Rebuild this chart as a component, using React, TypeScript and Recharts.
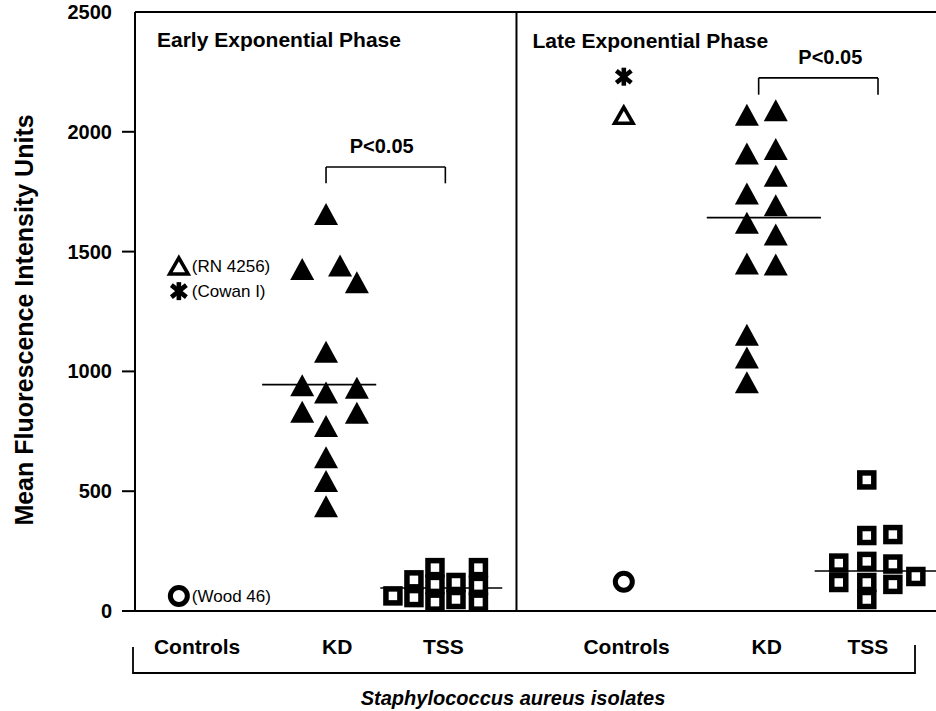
import React from 'react';
import { ScatterChart, Scatter, XAxis, YAxis, ReferenceLine, ReferenceArea } from 'recharts';

// ---------- text ----------
const categories = ['Controls', 'KD', 'TSS', 'Controls', 'KD', 'TSS'];
const panelTitles = ['Early Exponential Phase', 'Late Exponential Phase'];
const yTicks = [0, 500, 1000, 1500, 2000, 2500];
const yTitle = 'Mean Fluorescence Intensity Units';
const xTitle = 'Staphylococcus aureus isolates';
const significance = 'P<0.05';

// ---------- data ----------
// control strains: RN 4256 (open triangle), Cowan I (asterisk), Wood 46 (circle)
const controlStrains = ['(RN 4256)', '(Cowan I)', '(Wood 46)'];
const controlsEarly = [1440, 1335, 63];
const controlsLate = [2069, 2230, 122];

// Kawasaki disease isolates
const kdEarly = [1655, 1425, 1440, 1370, 1080, 940, 910, 930, 830, 825, 770, 640, 540, 435];
const kdEarlyColumn = [-0.4, -1.25, 0.1, 0.7, -0.4, -1.25, -0.4, 0.7, -1.25, 0.7, -0.4, -0.4, -0.4, -0.4];
const kdLate = [2069, 1907, 1740, 1618, 1448, 1151, 1056, 953, 2088, 1926, 1814, 1691, 1569, 1444];
const kdLateColumn = [-0.71, -0.71, -0.71, -0.71, -0.71, -0.71, -0.71, -0.71, 0.32, 0.32, 0.32, 0.32, 0.32, 0.32];

// toxic shock syndrome isolates
const tssEarly = [63, 130, 56, 181, 111, 37, 119, 48, 181, 107, 37];
const tssEarlyColumn = [-1.8, -1.05, -1.05, -0.3, -0.3, -0.3, 0.45, 0.45, 1.25, 1.25, 1.25];
const tssLate = [547, 315, 319, 200, 207, 196, 119, 119, 111, 144, 48];
const tssLateColumn = [-0.04, -0.04, 0.89, -1.04, -0.04, 0.89, -1.04, -0.04, 0.89, 1.71, -0.04];

// medians: early KD, early TSS, late KD, late TSS
const medians = [945, 96, 1642, 167];

// ---------- layout ----------
const W = 936;
const H = 711;
const FONT = '"Liberation Sans", Arial, Helvetica, sans-serif';
const X_DOMAIN: [number, number] = [0, 8];
const CAT_X = [0.62, 2.02, 3.08, 4.91, 6.31, 7.32];
const DIV_X = 3.81;
const COL = 0.28;
const CTRL_COL = [-0.65, -0.1];
const medianCat = [1, 2, 4, 5];
const medianSpan = [[-2.68, 1.39], [-2.25, 2.1], [-2.14, 1.93], [-1.9, 2.43]];
const brackets = [
  { from: [1, -0.4], to: [2, 0.07], top: 1853, leg: 1785, shift: -4 },
  { from: [4, -0.29], to: [5, 0.36], top: 2225, leg: 2155, shift: 12 },
];

const clampX = (v: number) => Math.max(X_DOMAIN[0], Math.min(X_DOMAIN[1], v));
const colX = (cat: number, col: number) => clampX(CAT_X[cat] + col * COL);

const dots = (cat: number, values: number[], cols: number[]) =>
  values.map((v, i) => ({ x: colX(cat, cols[i]), y: v }));

const ctrlPoint = (panel: number, strain: number) => ({
  x: colX(panel * 3, CTRL_COL[panel]),
  y: (panel === 0 ? controlsEarly : controlsLate)[strain],
  label: panel === 0 ? controlStrains[strain] : '',
});

const rnData = [ctrlPoint(0, 0), ctrlPoint(1, 0)];
const cowanData = [ctrlPoint(0, 1), ctrlPoint(1, 1)];
const woodData = [ctrlPoint(0, 2), ctrlPoint(1, 2)];
const kdData = [...dots(1, kdEarly, kdEarlyColumn), ...dots(4, kdLate, kdLateColumn)];
const tssData = [...dots(2, tssEarly, tssEarlyColumn), ...dots(5, tssLate, tssLateColumn)];

const textBase = { fontFamily: FONT, fill: '#000' } as const;

function StrainLabel({ cx, cy, label }: { cx: number; cy: number; label?: string }) {
  if (!label) return null;
  return (
    <text x={cx + 13} y={cy + 6} fontSize={17} style={textBase}>
      {label}
    </text>
  );
}

function FilledTriangle(p: any) {
  const { cx, cy } = p;
  if (cx == null || cy == null) return null;
  return <polygon points={`${cx},${cy - 11.5} ${cx - 12},${cy + 10.5} ${cx + 12},${cy + 10.5}`} fill="#000" />;
}

function OpenTriangle(p: any) {
  const { cx, cy, payload } = p;
  if (cx == null || cy == null) return null;
  return (
    <g>
      <polygon
        points={`${cx},${cy - 8} ${cx - 9.2},${cy + 8} ${cx + 9.2},${cy + 8}`}
        fill="#fff"
        stroke="#000"
        strokeWidth={3.6}
        strokeLinejoin="miter"
      />
      <StrainLabel cx={cx} cy={cy} label={payload?.label} />
    </g>
  );
}

function Asterisk(p: any) {
  const { cx, cy, payload } = p;
  if (cx == null || cy == null) return null;
  return (
    <g>
      <g stroke="#000" strokeWidth={4.6} strokeLinecap="butt">
        <line x1={cx} y1={cy - 9} x2={cx} y2={cy + 9} />
        <line x1={cx - 7.5} y1={cy - 6} x2={cx + 7.5} y2={cy + 6} />
        <line x1={cx - 7.5} y1={cy + 6} x2={cx + 7.5} y2={cy - 6} />
      </g>
      <StrainLabel cx={cx} cy={cy} label={payload?.label} />
    </g>
  );
}

function Ring(p: any) {
  const { cx, cy, payload } = p;
  if (cx == null || cy == null) return null;
  return (
    <g>
      <circle cx={cx} cy={cy} r={8.5} fill="#fff" stroke="#000" strokeWidth={5} />
      <StrainLabel cx={cx} cy={cy} label={payload?.label} />
    </g>
  );
}

function OpenSquare(p: any) {
  const { cx, cy } = p;
  if (cx == null || cy == null) return null;
  return <rect x={cx - 7} y={cy - 7} width={14} height={14} fill="#fff" stroke="#000" strokeWidth={5.5} />;
}

function YTick(p: any) {
  const { x, y, payload } = p;
  return (
    <g>
      {payload.value !== 2500 && (
        <line x1={x + 10} x2={x + 23} y1={y} y2={y} stroke="#000" strokeWidth={2} />
      )}
      <text x={x} y={y + 7} textAnchor="end" fontSize={20} fontWeight="bold" style={textBase}>
        {payload.value}
      </text>
    </g>
  );
}

function XTick(p: any) {
  const { x, y, payload } = p;
  let idx = 0;
  let best = Infinity;
  CAT_X.forEach((c, i) => {
    const d = Math.abs(c - payload.value);
    if (d < best) {
      best = d;
      idx = i;
    }
  });
  return (
    <text x={x} y={y + 14} textAnchor="middle" fontSize={21} fontWeight="bold" style={textBase}>
      {categories[idx]}
    </text>
  );
}

function XTitle(p: any) {
  const { x, y } = p.viewBox;
  return (
    <g>
      <path
        d={`M${x - 2},${y + 36} V${y + 62} H${x + 780} V${y + 34}`}
        fill="none"
        stroke="#000"
        strokeWidth={1.8}
      />
      <text
        x={x + 378}
        y={y + 94}
        textAnchor="middle"
        fontSize={20}
        fontWeight="bold"
        fontStyle="italic"
        style={textBase}
      >
        {xTitle}
      </text>
    </g>
  );
}

function YTitle(p: any) {
  const vb = p.viewBox;
  const cx = vb.x + 33;
  const cy = vb.y + vb.height / 2 + 8.5;
  return (
    <text
      x={cx}
      y={cy}
      transform={`rotate(-90 ${cx} ${cy})`}
      textAnchor="middle"
      fontSize={25}
      fontWeight="bold"
      style={textBase}
    >
      {yTitle}
    </text>
  );
}

const panelTitle = (text: string, dx: number, dy: number) => (p: any) => {
  const vb = p.viewBox;
  return (
    <text x={vb.x + dx} y={vb.y + dy} fontSize={21} fontWeight="bold" style={textBase}>
      {text}
    </text>
  );
};

const pText = (shift: number) => (p: any) => {
  const vb = p.viewBox;
  return (
    <text
      x={vb.x + vb.width / 2 + shift}
      y={vb.y - 14}
      textAnchor="middle"
      fontSize={20}
      fontWeight="bold"
      style={textBase}
    >
      {significance}
    </text>
  );
};

export default function App() {
  return (
    <div style={{ position: 'absolute', left: 0, top: 0, width: W, height: H, background: '#fff' }}>
      <ScatterChart width={W} height={H} margin={{ top: 12, right: 0, bottom: 0, left: 0 }}>
        <XAxis
          type="number"
          dataKey="x"
          domain={X_DOMAIN}
          ticks={CAT_X}
          interval={0}
          tick={(p: any) => <XTick {...p} />}
          tickLine={false}
          tickSize={0}
          tickMargin={29}
          axisLine={{ stroke: '#000', strokeWidth: 2 }}
          height={100}
          label={XTitle}
        />
        <YAxis
          type="number"
          dataKey="y"
          domain={[0, 2500]}
          ticks={yTicks}
          interval={0}
          tick={(p: any) => <YTick {...p} />}
          tickLine={false}
          tickSize={13}
          tickMargin={10}
          axisLine={{ stroke: '#000', strokeWidth: 2 }}
          width={135}
          label={YTitle}
        />

        <ReferenceArea
          x1={0}
          x2={DIV_X}
          y1={0}
          y2={2500}
          fill="none"
          fillOpacity={0}
          stroke="none"
          label={panelTitle(panelTitles[0], 22, 35)}
        />
        <ReferenceArea
          x1={DIV_X}
          x2={X_DOMAIN[1]}
          y1={0}
          y2={2500}
          fill="none"
          fillOpacity={0}
          stroke="none"
          label={panelTitle(panelTitles[1], 16, 36)}
        />

        <ReferenceLine y={2500} stroke="#000" strokeWidth={2} />
        <ReferenceLine x={DIV_X} stroke="#000" strokeWidth={2} />

        {medians.map((m, i) => (
          <ReferenceLine
            key={`med-${i}`}
            ifOverflow="visible"
            segment={[
              { x: colX(medianCat[i], medianSpan[i][0]), y: m },
              { x: colX(medianCat[i], medianSpan[i][1]), y: m },
            ]}
            stroke="#000"
            strokeWidth={1.6}
          />
        ))}

        {brackets.map((b, i) => {
          const x1 = colX(b.from[0], b.from[1]);
          const x2 = colX(b.to[0], b.to[1]);
          return [
            <ReferenceLine
              key={`br-top-${i}`}
              ifOverflow="visible"
              segment={[{ x: x1, y: b.top }, { x: x2, y: b.top }]}
              stroke="#000"
              strokeWidth={1.6}
              label={pText(b.shift)}
            />,
            <ReferenceLine
              key={`br-l-${i}`}
              ifOverflow="visible"
              segment={[{ x: x1, y: b.top }, { x: x1, y: b.leg }]}
              stroke="#000"
              strokeWidth={1.6}
            />,
            <ReferenceLine
              key={`br-r-${i}`}
              ifOverflow="visible"
              segment={[{ x: x2, y: b.top }, { x: x2, y: b.leg }]}
              stroke="#000"
              strokeWidth={1.6}
            />,
          ];
        })}

        <Scatter name="KD" data={kdData} shape={FilledTriangle} isAnimationActive={false} />
        <Scatter name="TSS" data={tssData} shape={OpenSquare} isAnimationActive={false} />
        <Scatter name="RN 4256" data={rnData} shape={OpenTriangle} isAnimationActive={false} />
        <Scatter name="Cowan I" data={cowanData} shape={Asterisk} isAnimationActive={false} />
        <Scatter name="Wood 46" data={woodData} shape={Ring} isAnimationActive={false} />
      </ScatterChart>
    </div>
  );
}
